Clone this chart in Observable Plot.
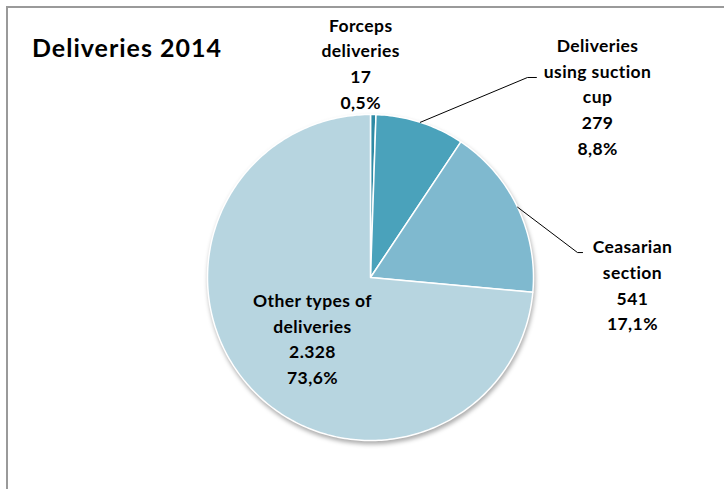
<!DOCTYPE html>
<html>
<head>
<meta charset="utf-8">
<script src="https://cdn.jsdelivr.net/npm/d3@7"></script>
<script src="https://cdn.jsdelivr.net/npm/@observablehq/plot@0.6"></script>
<style>
  html, body { margin: 0; padding: 0; background: #fff; }
  #wrap { position: relative; width: 724px; height: 489px; overflow: hidden; font-family: Lato, "Liberation Sans", sans-serif; }
  #frame { position: absolute; left: 6px; top: 6px; width: 800px; height: 600px; border-top: 2px solid #9a9a9a; border-left: 2px solid #9a9a9a; box-sizing: border-box; }
  #title { position: absolute; left: 32px; top: 32px; font-size: 25px; font-weight: bold; color: #000; letter-spacing: 1px; white-space: nowrap; }
  #chart { position: absolute; left: 0; top: 0; }
</style>
</head>
<body>
<div id="wrap">
  <div id="frame"></div>
  <div id="chart"></div>
  <div id="title">Deliveries 2014</div>
</div>
<script>
// ---- data ----
const categories = ["Forceps deliveries", "Deliveries using suction cup", "Ceasarian section", "Other types of deliveries"];
const labelLines = ["Forceps\ndeliveries", "Deliveries\nusing suction\ncup", "Ceasarian\nsection", "Other types of\ndeliveries"];
const counts = [17, 279, 541, 2328];
const colors = ["#2f8aa4", "#4aa2bb", "#7fb9cf", "#b7d5e0"];

// ---- layout (data units, radius = 1) ----
const labelX = [-0.06, 1.393, 1.607, -0.356];
const labelY = [1.322, 1.119, -0.037, -0.366];
const leaderElbow = [null, [0.963, 1.227, 1.018], [1.270, 0.153, 1.301], null];

const total = d3.sum(counts);
const fmtCount = v => d3.format(",")(v).replace(/,/g, ".");
const fmtPct = v => (v * 100).toFixed(1).replace(".", ",") + "%";

const arcs = d3.pie().sort(null).value(d => d)(counts);

// slice polygons
const slicePts = [];
arcs.forEach((a, i) => {
  const name = categories[i];
  slicePts.push({name, x: 0, y: 0});
  const n = Math.max(2, Math.ceil((a.endAngle - a.startAngle) / (Math.PI / 180)));
  for (let k = 0; k <= n; k++) {
    const t = a.startAngle + (a.endAngle - a.startAngle) * k / n;
    slicePts.push({name, x: Math.sin(t), y: Math.cos(t)});
  }
});

// leader lines
const leaderPts = [];
arcs.forEach((a, i) => {
  const e = leaderElbow[i];
  if (!e) return;
  const m = (a.startAngle + a.endAngle) / 2;
  leaderPts.push({name: categories[i], x: Math.sin(m), y: Math.cos(m)});
  leaderPts.push({name: categories[i], x: e[0], y: e[1]});
  leaderPts.push({name: categories[i], x: e[2], y: e[1]});
});

const labels = categories.map((c, i) => ({
  name: c,
  x: labelX[i],
  y: labelY[i],
  text: labelLines[i] + "\n" + fmtCount(counts[i]) + "\n" + fmtPct(counts[i] / total)
}));

const R = 163, cx = 370, cy = 277;
const chart = Plot.plot({
  width: 724,
  height: 489,
  marginLeft: cx - R,
  marginRight: 724 - (cx + R),
  marginTop: cy - R,
  marginBottom: 489 - (cy + R),
  x: {domain: [-1, 1], axis: null},
  y: {domain: [-1, 1], axis: null},
  color: {domain: categories, range: colors},
  style: {fontFamily: "Lato, 'Liberation Sans', sans-serif", fontSize: "17.5px", background: "transparent", overflow: "visible", letterSpacing: "0.4px"},
  marks: [
    Plot.line(slicePts, {x: "x", y: "y", z: "name", fill: "name", stroke: "white", strokeWidth: 1.5, curve: "linear-closed"}),
    Plot.line(leaderPts, {x: "x", y: "y", z: "name", stroke: "black", strokeWidth: 1}),
    Plot.text(labels, {x: "x", y: "y", text: "text", fill: "black", fontWeight: "bold", lineHeight: 1.475, textAnchor: "middle", lineAnchor: "middle"})
  ]
});
d3.select(chart).select('g[aria-label="line"]').style("filter", "drop-shadow(1px 3px 2px rgba(0,0,0,0.32))");
document.getElementById("chart").appendChild(chart);
</script>
</body>
</html>
